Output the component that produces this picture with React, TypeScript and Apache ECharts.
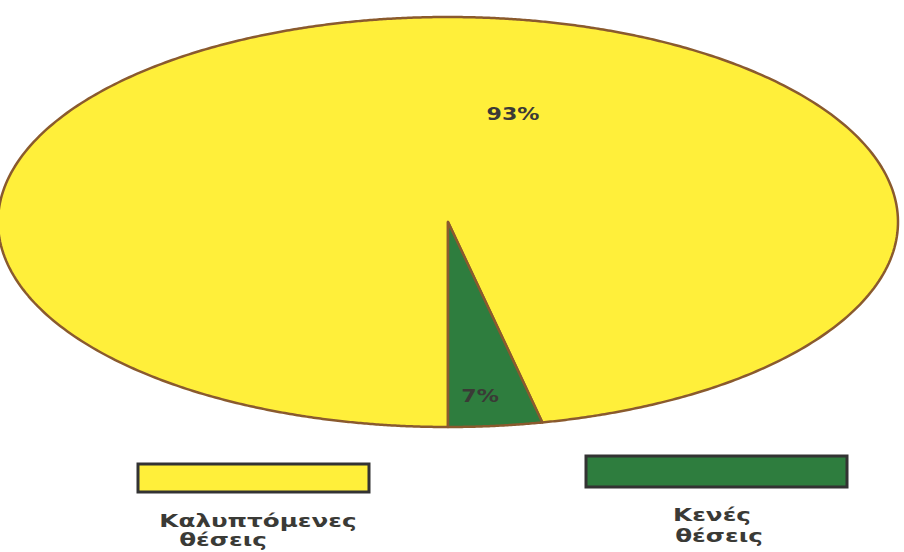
import React, { useEffect, useRef } from "react";
import * as echarts from "echarts";

const categories = ["Καλυπτόμενες θέσεις", "Κενές θέσεις"];
const legendLines = [["Καλυπτόμενες", "θέσεις"], ["Κενές", "θέσεις"]];
const values = [93, 7];
const colors = ["#FFEF3A", "#2E7D3E"];

const CX = 448;
const CY = 222;
const RX = 450;
const RY = 205;

export default function App() {
  const ref = useRef<HTMLDivElement>(null);
  useEffect(() => {
    if (!ref.current) return;
    const chart = echarts.init(ref.current, undefined, { renderer: "svg" });
    const total = values.reduce((a, b) => a + b, 0);
    const font = "DejaVu Sans";
    const txt = (x: number, y: number, s: string, size: number, sx: number) => ({
      type: "text",
      x,
      y,
      scaleX: sx,
      z: 100,
      style: {
        text: s,
        x: 0,
        y: 0,
        align: "center",
        verticalAlign: "middle",
        fontFamily: font,
        fontSize: size,
        fontWeight: 600,
        fill: "#3a3a36",
      },
    });
    const option: any = {
      animation: false,
      backgroundColor: "#ffffff",
      series: [
        {
          type: "custom",
          coordinateSystem: "none",
          data: values.map((v, i) => [v, i]),
          renderItem: (params: any, api: any) => {
            const i = params.dataIndex;
            const v = api.value(0);
            let before = 0;
            for (let k = 0; k < i; k++) before += values[k];
            const start = 180 + (before / total) * 360;
            const end = start + (v / total) * 360;
            const pts: number[][] = [[CX, CY]];
            const steps = Math.max(2, Math.ceil((end - start) * 2));
            for (let s = 0; s <= steps; s++) {
              const phi = ((start + ((end - start) * s) / steps) * Math.PI) / 180;
              const sx = Math.sin(phi);
              const cy = Math.cos(phi);
              const r = 1 / Math.sqrt((sx / RX) ** 2 + (cy / RY) ** 2);
              pts.push([CX + r * sx, CY - r * cy]);
            }
            return {
              type: "polygon",
              shape: { points: pts },
              style: { fill: colors[i], stroke: "#8A5A2E", lineWidth: 2.5, lineJoin: "round" },
            };
          },
        },
      ],
      graphic: [
        txt(513, 114, `${values[0]}%`, 17, 1.3),
        txt(480, 396, `${values[1]}%`, 17, 1.3),
        {
          type: "rect",
          shape: { x: 138, y: 464, width: 231, height: 28 },
          style: { fill: colors[0], stroke: "#333333", lineWidth: 3 },
        },
        {
          type: "rect",
          shape: { x: 586, y: 456, width: 261, height: 31 },
          style: { fill: colors[1], stroke: "#333333", lineWidth: 3 },
        },
        txt(258, 521, legendLines[0][0], 17, 1.45),
        txt(223, 540, legendLines[0][1], 17, 1.45),
        txt(712, 515, legendLines[1][0], 17, 1.45),
        txt(719, 536, legendLines[1][1], 17, 1.45),
      ],
    };
    chart.setOption(option);
    return () => chart.dispose();
  }, []);
  return (
    <div
      ref={ref}
      aria-label={categories.join(", ")}
      style={{ position: "fixed", left: 0, top: 0, width: 904, height: 552 }}
    />
  );
}
